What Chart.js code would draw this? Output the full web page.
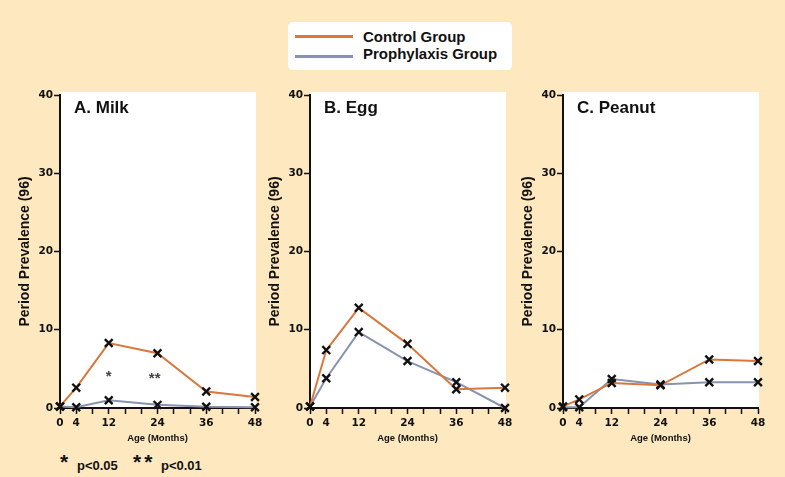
<!DOCTYPE html>
<html>
<head>
<meta charset="utf-8">
<script src="https://cdn.jsdelivr.net/npm/chart.js@4.4.1/dist/chart.umd.min.js"></script>
<style>
  body { margin: 0; background: #fde8bf; }
  #wrap { position: relative; width: 785px; height: 477px; background: #fde8bf; overflow: hidden;
          font-family: "Liberation Sans", Arial, sans-serif; font-weight: bold; color: #111; }
  canvas { position: absolute; top: 80px; }
  #legend { position: absolute; left: 288px; top: 22px; width: 224px; height: 48px;
            background: #fff; border-radius: 5px; }
  .row { position: absolute; left: 0; height: 18px; width: 224px; }
  .row .swatch { position: absolute; left: 7px; top: 7px; width: 58px; height: 2.5px; }
  .row .txt { position: absolute; left: 75px; top: 0; font-size: 15px; line-height: 18px; white-space: nowrap; }
  #note { position: absolute; left: 60px; top: 450px; width: 200px; height: 27px; font-size: 13px; white-space: nowrap; }
  #note .star { font-size: 21px; position: absolute; top: 0; letter-spacing: 3px; }
  #note .p { position: absolute; top: 8px; }
</style>
</head>
<body>
<div id="wrap">
  <div id="legend">
    <div class="row" style="top:6px"><div class="swatch" style="background:#d9773c"></div><div class="txt">Control Group</div></div>
    <div class="row" style="top:23px"><div class="swatch" style="background:#8893ae; top:10px"></div><div class="txt">Prophylaxis Group</div></div>
  </div>
  <canvas id="milk" width="270" height="369" style="left:0px"></canvas>
  <canvas id="egg" width="270" height="369" style="left:250px"></canvas>
  <canvas id="peanut" width="270" height="369" style="left:503px"></canvas>
  <div id="note">
    <span class="star" style="left:0px">*</span><span class="p" style="left:17px">p&lt;0.05</span>
    <span class="star" style="left:73px">**</span><span class="p" style="left:101px">p&lt;0.01</span>
  </div>
</div>
<script>
// ages in months and the labelled x ticks
const months = [0, 4, 12, 24, 36, 48];
const xTickLabels = [0, 4, 12, 24, 36, 48];
const yTicks = [0, 10, 20, 30, 40];

// period prevalence (%) per group
const milkControl = [0.2, 2.6, 8.3, 7.0, 2.1, 1.4];
const milkProphylaxis = [0.2, 0.1, 1.0, 0.4, 0.15, 0.1];
const eggControl = [0.2, 7.4, 12.8, 8.2, 2.4, 2.6];
const eggProphylaxis = [0.2, 3.8, 9.7, 6.0, 3.3, 0.0];
const peanutControl = [0.2, 1.1, 3.2, 2.9, 6.2, 6.0];
const peanutProphylaxis = [0.1, 0.1, 3.7, 3.0, 3.3, 3.3];

// significance marks for milk: month, value, symbol
const milkSigMonths = [12, 23.3];
const milkSigValues = [4.3, 4.1];
const milkSigText = ['*', '**'];

const CONTROL_COLOR = '#d9773c';
const PROPH_COLOR = '#8893ae';
const INK = '#111111';

function toPoints(values) {
    return months.map((m, i) => ({ x: m, y: values[i] }));
}

// white panel behind the plot area + panel heading + optional star marks
const panelPlugin = {
    id: 'panel',
    beforeDraw(chart, args, opts) {
        const { ctx, chartArea } = chart;
        ctx.save();
        ctx.fillStyle = '#ffffff';
        ctx.fillRect(chartArea.left, chartArea.top - 3, chartArea.right - chartArea.left + 1, chartArea.bottom - chartArea.top + 3);
        ctx.restore();
    },
    afterDatasetsDraw(chart, args, opts) {
        const { ctx, chartArea, scales } = chart;
        ctx.save();
        ctx.fillStyle = INK;
        ctx.font = 'bold 17px "Liberation Sans", Arial, sans-serif';
        ctx.textBaseline = 'middle';
        ctx.fillText(opts.heading, chartArea.left + 14, chartArea.top + 13);
        if (opts.marks) {
            ctx.fillStyle = '#444';
            ctx.font = 'bold 15px "Liberation Sans", Arial, sans-serif';
            ctx.textAlign = 'center';
            opts.marks.x.forEach((m, i) => {
                ctx.fillText(opts.marks.text[i], scales.x.getPixelForValue(m), scales.y.getPixelForValue(opts.marks.y[i]) + 3);
            });
        }
        ctx.restore();
    }
};

function makePanel(canvasId, heading, control, proph, marks) {
    const ctx = document.getElementById(canvasId).getContext('2d');
    const pointOpts = {
        pointStyle: 'crossRot',
        pointRadius: 5.5,
        pointBorderWidth: 2.4,
        pointBorderColor: INK,
        pointBackgroundColor: INK,
        borderWidth: 2,
        tension: 0,
        clip: false // keep the end markers whole at the plot edges
    };
    new Chart(ctx, {
        type: 'line',
        data: {
            datasets: [
                Object.assign({ label: 'Control Group', data: toPoints(control), borderColor: CONTROL_COLOR }, pointOpts),
                Object.assign({ label: 'Prophylaxis Group', data: toPoints(proph), borderColor: PROPH_COLOR }, pointOpts)
            ]
        },
        options: {
            responsive: false,
            animation: false,
            layout: { padding: { top: 15, right: 15, left: 0, bottom: 0 } },
            plugins: {
                legend: { display: false },
                tooltip: { enabled: false },
                panel: { heading: heading, marks: marks }
            },
            scales: {
                x: {
                    type: 'linear',
                    min: 0,
                    max: 48,
                    afterFit: s => { s.height = 41; },
                    border: { display: true, color: INK, width: 2 },
                    grid: { drawOnChartArea: false, drawTicks: true, tickLength: 6, tickColor: INK, tickWidth: 1.5 },
                    ticks: {
                        stepSize: 4,
                        autoSkip: false,
                        maxRotation: 0,
                        padding: 3,
                        color: INK,
                        font: { family: '"DejaVu Sans"', weight: 'bold', size: 10.5 },
                        callback: v => xTickLabels.includes(v) ? String(v) : ''
                    },
                    title: {
                        display: true,
                        text: 'Age (Months)',
                        color: INK,
                        font: { family: '"Liberation Sans", Arial', weight: 'bold', size: 9.5 },
                        padding: { top: 0, bottom: 5 }
                    }
                },
                y: {
                    min: 0,
                    max: 40,
                    afterFit: s => { s.width = 60; },
                    afterBuildTicks: s => { s.ticks = yTicks.map(v => ({ value: v })); },
                    border: { display: true, color: INK, width: 2 },
                    grid: { drawOnChartArea: false, drawTicks: true, tickLength: 6, tickColor: INK, tickWidth: 1.5 },
                    ticks: {
                        padding: 1,
                        color: INK,
                        font: { family: '"DejaVu Sans"', weight: 'bold', size: 10.5 }
                    },
                    title: {
                        display: true,
                        text: 'Period Prevalence (96)',
                        color: INK,
                        font: { family: '"Liberation Sans", Arial', weight: 'bold', size: 14 },
                        padding: { top: 17, bottom: 0 }
                    }
                }
            }
        },
        plugins: [panelPlugin]
    });
}

makePanel('milk', 'A. Milk', milkControl, milkProphylaxis, { x: milkSigMonths, y: milkSigValues, text: milkSigText });
makePanel('egg', 'B. Egg', eggControl, eggProphylaxis, null);
makePanel('peanut', 'C. Peanut', peanutControl, peanutProphylaxis, null);
</script>
</body>
</html>
